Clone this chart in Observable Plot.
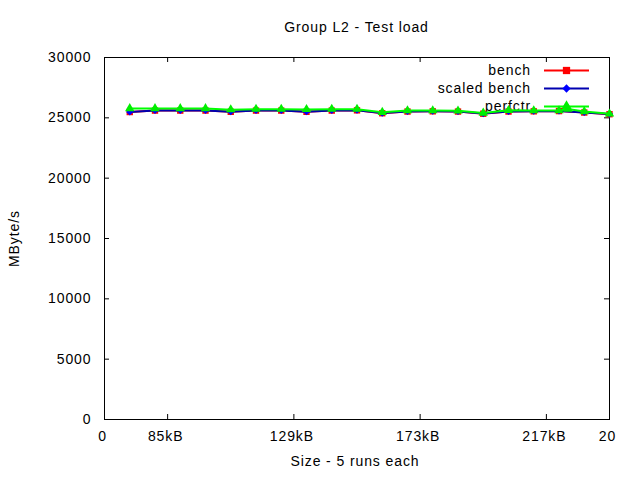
<!DOCTYPE html>
<html><head><meta charset="utf-8">
<script src="https://cdn.jsdelivr.net/npm/d3@7"></script>
<script src="https://cdn.jsdelivr.net/npm/@observablehq/plot@0.6"></script>
<style>
body{margin:0;background:#fff;}
#wrap{position:relative;width:640px;height:480px;font-family:"Liberation Sans",Arial,sans-serif;font-size:14px;letter-spacing:0.9px;color:#000;background:#fff;}
#title{box-sizing:border-box;height:40px;width:505px;margin-left:104px;text-align:center;padding-top:19px;line-height:16px;}
#chart{position:relative;z-index:2;}
#legend{position:absolute;left:0;top:0;z-index:1;pointer-events:none;}
</style>
</head><body>
<div id="wrap"><div id="title">Group L2 - Test load</div><div id="chart"></div></div>
<script>
// ---- data ----
const runIndex = [1,2,3,4,5,6,7,8,9,10,11,12,13,14,15,16,17,18,19,20];
const bench = [25480,25600,25600,25600,25500,25600,25600,25500,25600,25620,25380,25520,25540,25520,25340,25520,25540,25560,25440,25300];
const scaledBench = [25490,25610,25610,25610,25510,25610,25610,25510,25610,25630,25390,25530,25550,25530,25350,25530,25550,25570,25450,25310];
const perfctrX = [1,2,3,4,5,6,7,8,9,10,11,12,13,14,15,16,17,18,18.35,19,20];
const perfctr = [25780,25780,25780,25770,25680,25720,25720,25700,25720,25720,25460,25600,25600,25580,25400,25620,25600,25600,25740,25520,25330];
const xTickPos = [0,2.5,7.5,12.5,17.5,20];
const xTickLabels = ["0","85kB","129kB","173kB","217kB","20"];
const xMinorTicks = [2.5,7.5,12.5,17.5];
const yTicks = [0,5000,10000,15000,20000,25000,30000];
const seriesNames = ["bench","scaled bench","perfctr"];
const seriesColors = ["#ff0000","#0000b0","#00ff00"];
const markerColors = ["#ff0000","#0000ff","#00ee00"];

const W = 640, H = 440, mL = 104, mR = 31, mT = 17, mB = 61;
const plotW = W - mL - mR, plotH = H - mT - mB;
const toRows = (xs, ys) => ys.map((y, i) => ({x: xs[i], y}));
const sets = [toRows(runIndex, bench), toRows(runIndex, scaledBench), toRows(perfctrX, perfctr)];

// gnuplot-like rotated-square diamond
const gpDiamond = {draw(ctx, size) { const r = Math.sqrt(size / 2); ctx.moveTo(0, -r); ctx.lineTo(r, 0); ctx.lineTo(0, r); ctx.lineTo(-r, 0); ctx.closePath(); }};
const symbols = [d3.symbolSquare, gpDiamond, d3.symbolTriangle];
const radii = [3.6, 2.9, 3.5];

const marks = [
  Plot.frame({stroke: "black"}),
  Plot.tickY(yTicks, {y: d => d, insetRight: plotW - 5, stroke: "black"}),
  Plot.tickY(yTicks, {y: d => d, insetLeft: plotW - 5, stroke: "black"}),
  Plot.tickX(xMinorTicks, {x: d => d, insetTop: plotH - 5, stroke: "black"}),
  Plot.tickX(xMinorTicks, {x: d => d, insetBottom: plotH - 5, stroke: "black"}),
  Plot.axisY({ticks: yTicks, tickSize: 0, tickPadding: 13, tickFormat: d => String(d), label: null}),
  Plot.axisX({ticks: xTickPos, tickSize: 0, tickPadding: 12, dx: -2, tickFormat: d => xTickLabels[xTickPos.indexOf(d)], label: null}),
  Plot.text(["MByte/s"], {frameAnchor: "left", dx: -90, rotate: -90, textAnchor: "middle"}),
  Plot.text(["Size - 5 runs each"], {frameAnchor: "bottom", dy: 46, dx: -2, textAnchor: "middle"})
];
sets.forEach((rows, k) => {
  marks.push(Plot.line(rows, {x: "x", y: "y", stroke: seriesColors[k], strokeWidth: 2}));
  marks.push(Plot.dot(rows, {x: "x", y: "y", symbol: () => symbols[k], r: radii[k], fill: markerColors[k], stroke: "none"}));
});

const chart = Plot.plot({
  width: W, height: H,
  marginLeft: mL, marginRight: mR, marginTop: mT, marginBottom: mB,
  x: {domain: [0, 20]},
  y: {domain: [0, 30000]},
  style: {fontFamily: "'Liberation Sans', Arial, sans-serif", fontSize: "14px", letterSpacing: "0.9px", background: "transparent", overflow: "visible"},
  marks
});
document.getElementById("chart").appendChild(chart);

// legend (inside the plot, top right, drawn beneath the data as in the reference)
const leg = d3.select("#wrap").append("svg").attr("id", "legend").attr("width", 640).attr("height", 480)
  .style("font-family", "'Liberation Sans', Arial, sans-serif").style("font-size", "14px").style("letter-spacing", "0.9px");
seriesNames.forEach((name, k) => {
  const cy = 70.5 + 18 * k;
  leg.append("text").attr("x", 531).attr("y", cy).attr("dy", "0.35em").attr("text-anchor", "end").text(name);
  leg.append("line").attr("x1", 544).attr("x2", 589).attr("y1", cy).attr("y2", cy).attr("stroke", seriesColors[k]).attr("stroke-width", 2);
  leg.append("path").attr("transform", `translate(566.5,${cy})`).attr("d", d3.symbol(symbols[k], Math.PI * radii[k] * radii[k] * 1.3)()).attr("fill", markerColors[k]);
});
</script>
</body></html>
